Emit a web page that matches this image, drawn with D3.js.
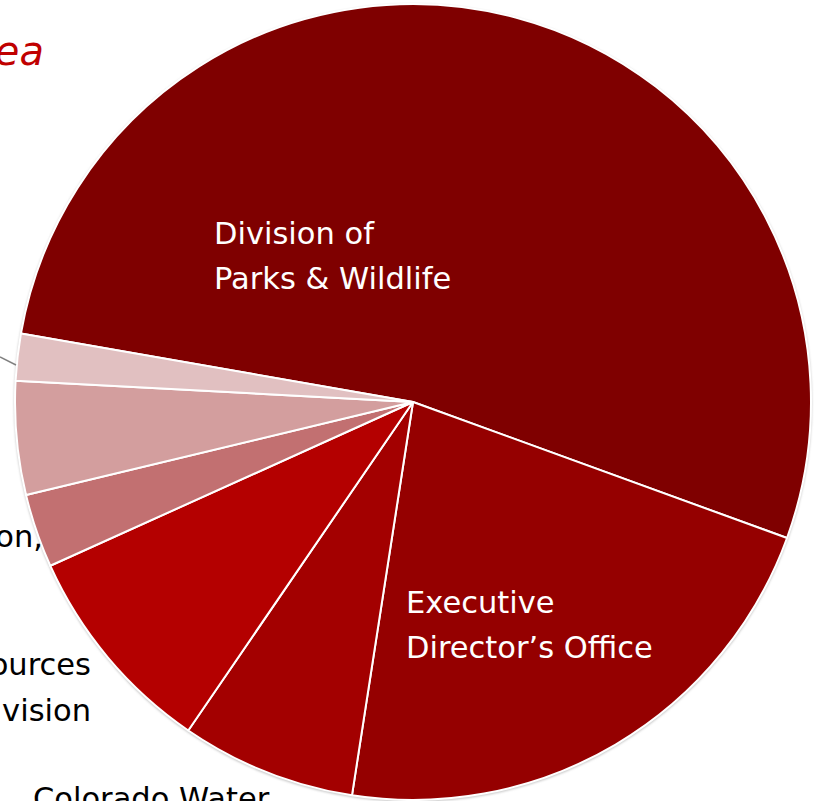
<!DOCTYPE html>
<html>
<head>
<meta charset="utf-8">
<script src="https://cdn.jsdelivr.net/npm/d3@7"></script>
<style>
  html, body { margin: 0; padding: 0; background: #fff; overflow: hidden; }
  text { font-family: "DejaVu Sans", sans-serif; }
</style>
</head>
<body>
<div id="chart"></div>
<script>
const width = 814, height = 801;

// budget share by division (percent)
const divisions = [
	"Division of Parks & Wildlife",
	"Executive Director\u2019s Office",
	"Colorado Water Conservation Board",
	"Water Resources Division",
	"Division of Reclamation, Mining & Safety",
	"State Land Board",
	"Oil & Gas Conservation Commission"
];
const shares = [52.8, 21.9, 7.1, 8.7, 3.0, 4.6, 1.9];
const colors = ["#7f0000", "#950000", "#a30000", "#b40000", "#c27071", "#d39e9e", "#e1c0c1"];

const svg = d3.select("#chart")
	.append("svg")
	.attr("width", width)
	.attr("height", height);

const cx = 413, cy = 402, radius = 398;
const startDeg = -80.1;

const pie_func = d3.pie()
	.sort(null)
	.value((d) => d)
	.startAngle(startDeg * Math.PI / 180)
	.endAngle(startDeg * Math.PI / 180 + 2 * Math.PI);

const arc_func = d3.arc()
	.innerRadius(0)
	.outerRadius(radius);

// soft shadow ring round the pie
const defs = svg.append("defs");
defs.append("filter")
	.attr("id", "blur")
	.append("feGaussianBlur")
	.attr("stdDeviation", 1.2);

svg.append("circle")
	.attr("cx", cx)
	.attr("cy", cy + 1)
	.attr("r", radius + 1)
	.attr("fill", "#c8c8c8")
	.attr("filter", "url(#blur)");

const pie_layer = svg.append("g")
	.attr("transform", `translate(${cx},${cy})`);

pie_layer.selectAll(".slice")
	.data(pie_func(shares))
	.enter()
	.append("path")
	.classed("slice", true)
	.attr("d", arc_func)
	.attr("fill", (d, i) => colors[i])
	.attr("stroke", "#fff")
	.attr("stroke-width", 2)
	.attr("stroke-linejoin", "round");

// labels inside the two big slices
const inner_labels = [
	{ lines: ["Division of", "Parks & Wildlife"], x: 214, y: 244 },
	{ lines: ["Executive", "Director\u2019s Office"], x: 406, y: 613 }
];

inner_labels.forEach(function(l) {
	const t = svg.append("text")
		.attr("x", l.x)
		.attr("y", l.y)
		.attr("fill", "#fff")
		.attr("font-size", 30.5);
	l.lines.forEach(function(line, i) {
		t.append("tspan")
			.attr("x", l.x)
			.attr("dy", i === 0 ? 0 : 45)
			.text(line);
	});
});

// outside labels, mostly cut off by the left and bottom edges
const outer_labels = [
	{ lines: ["Division of Reclamation,"], x: 43, y: 547, anchor: "end" },
	{ lines: ["Water Resources", "Division"], x: 91, y: 675, anchor: "end" },
	{ lines: ["Colorado Water", "Conservation Board"], x: 33, y: 809, anchor: "start" }
];

outer_labels.forEach(function(l) {
	const t = svg.append("text")
		.attr("x", l.x)
		.attr("y", l.y)
		.attr("fill", "#000")
		.attr("font-size", 30.5)
		.attr("text-anchor", l.anchor);
	l.lines.forEach(function(line, i) {
		t.append("tspan")
			.attr("x", l.x)
			.attr("dy", i === 0 ? 0 : 46)
			.text(line);
	});
});

// leader line for the smallest slice
svg.append("line")
	.attr("x1", 0)
	.attr("y1", 357)
	.attr("x2", 16)
	.attr("y2", 365)
	.attr("stroke", "#808080")
	.attr("stroke-width", 1.5);

// title, mostly off the left edge
svg.append("text")
	.attr("x", 44)
	.attr("y", 65)
	.attr("text-anchor", "end")
	.attr("fill", "#c00000")
	.attr("font-size", 40)
	.attr("font-style", "italic")
	.text("Budget by Area");
</script>
</body>
</html>
